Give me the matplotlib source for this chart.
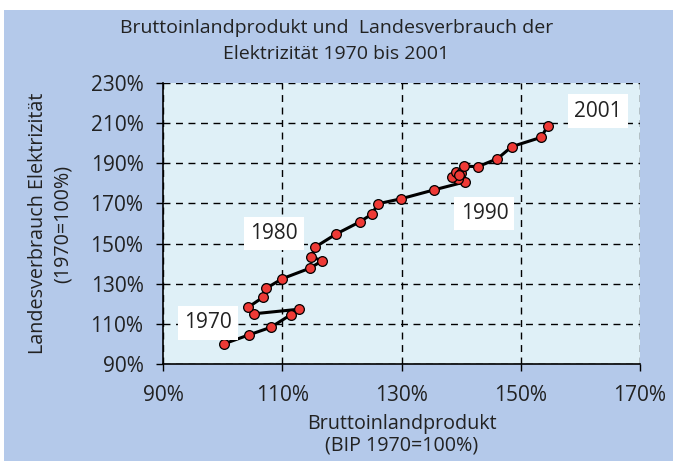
import matplotlib
matplotlib.use("agg")
import matplotlib.pyplot as plt
from matplotlib.patches import Rectangle

# data (index 1970 = 100%)
years = list(range(1970, 2002))
bip = [100.2, 104.4, 108.1, 111.4, 112.8, 105.2, 104.3, 106.8, 107.3, 110.0,
       114.7, 116.7, 114.9, 115.5, 119.0, 123.0, 125.1, 126.0, 129.9, 135.4,
       140.6, 139.4, 138.4, 139.1, 140.0, 139.6, 140.5, 142.8, 146.1, 148.5,
       153.4, 154.5]
strom = [100.0, 104.5, 108.3, 114.5, 117.3, 115.0, 118.3, 123.3, 127.7, 132.5,
         137.8, 141.5, 143.3, 148.2, 154.7, 160.8, 164.8, 169.8, 172.3, 176.7,
         180.7, 182.0, 183.3, 185.6, 185.3, 184.0, 188.6, 188.3, 192.3, 198.3,
         202.9, 208.4]
ticks_x = [90, 110, 130, 150, 170]
ticks_y = [90, 110, 130, 150, 170, 190, 210, 230]
year_labels = ["1970", "1980", "1990", "2001"]
label_pos = [(97.6, 110.5), (108.6, 155.0), (143.9, 165.0), (163.0, 216.0)]

plt.rcParams['font.family'] = ['Open Sans', 'DejaVu Sans']
txt = "#222222"
blue = "#b4c9ea"

fig = plt.figure(figsize=(6.73, 4.61), dpi=100, facecolor="white")
fig.patches.append(Rectangle((0.006, 0), 0.994, 1 - 10/461, transform=fig.transFigure,
                             facecolor=blue, edgecolor="none", zorder=-10))
ax = fig.add_axes([163/673, 1 - 364/461, 477/673, 281/461])
ax.set_facecolor("#dff0f7")

ax.plot(bip, strom, color="black", lw=2.2, marker="o", ms=7,
        mfc="#ee3a36", mec="black", mew=0.9, zorder=3)

for lab, (x, y) in zip(year_labels, label_pos):
    ax.text(x, y, lab, ha="center", va="center", fontsize=15, color=txt, zorder=4,
            bbox=dict(facecolor="white", edgecolor="none", pad=4.5))

ax.set_xlim(90, 170)
ax.set_ylim(90, 230)
ax.set_xticks(ticks_x)
ax.set_yticks(ticks_y)
ax.set_xticklabels([f"{t}%" for t in ticks_x])
ax.set_yticklabels([f"{t}%" for t in ticks_y])
ax.tick_params(axis="both", direction="out", length=5, width=1, colors="black",
               labelcolor=txt, labelsize=15)
ax.tick_params(axis="x", pad=10)
ax.tick_params(axis="y", pad=9)
ax.grid(True, color="black", ls=(0, (5, 4)), lw=1.0, zorder=1)
ax.set_axisbelow(True)
for s in ["top", "right"]:
    ax.spines[s].set_visible(False)
for s in ["left", "bottom"]:
    ax.spines[s].set_linewidth(1.2)
    ax.spines[s].set_zorder(2)

ax.set_xlabel("Bruttoinlandprodukt\n(BIP 1970=100%)", fontsize=14.2, color=txt,
              labelpad=6, linespacing=1.08)
ax.set_ylabel("Landesverbrauch Elektrizität\n(1970=100%)", fontsize=14.2, color=txt,
              labelpad=13, linespacing=1.3)

fig.text(0.5, 1 - 41/461, "Bruttoinlandprodukt und  Landesverbrauch der\nElektrizität 1970 bis 2001",
         ha="center", va="center", fontsize=14, color=txt, linespacing=1.6)

fig.savefig("out.png", dpi=100, facecolor=fig.get_facecolor())
